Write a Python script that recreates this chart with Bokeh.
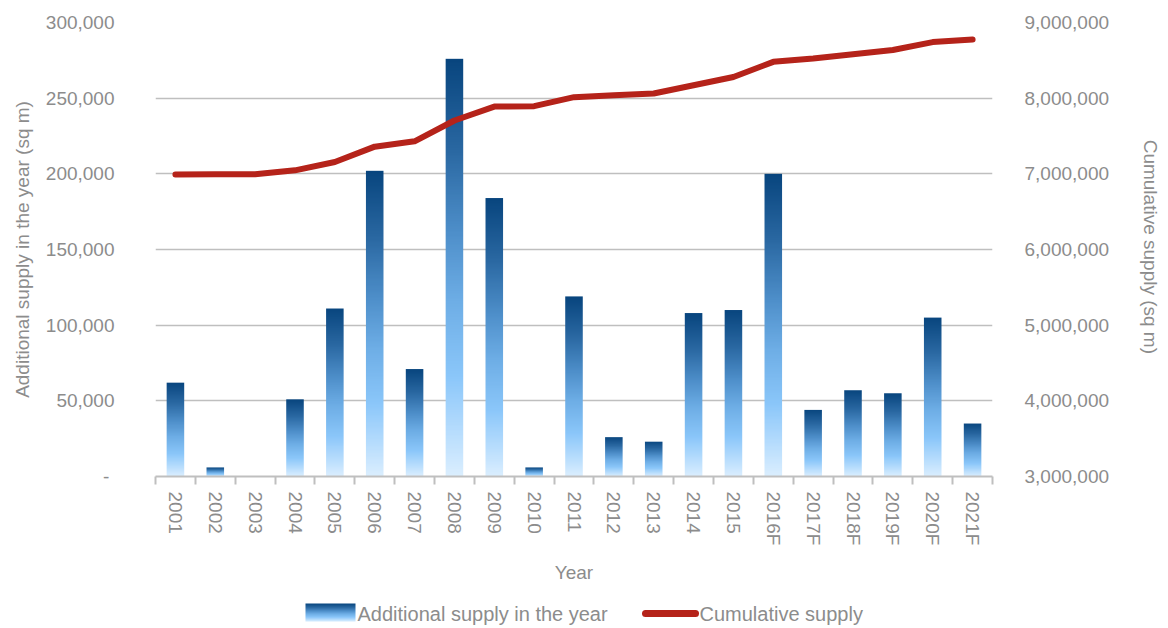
import numpy as np
from bokeh.plotting import figure
from bokeh.models import (Range1d, LinearAxis, FixedTicker,
                          CustomJSTickFormatter, NumeralTickFormatter)
from bokeh.layouts import column
from bokeh.core.properties import value
from bokeh.embed import file_html
from bokeh.resources import INLINE

# ---- data -----------------------------------------------------------------
years = ["2001", "2002", "2003", "2004", "2005", "2006", "2007", "2008",
         "2009", "2010", "2011", "2012", "2013", "2014", "2015", "2016F",
         "2017F", "2018F", "2019F", "2020F", "2021F"]

additional_supply = [62000, 6000, 0, 51000, 111000, 202000, 71000, 276000,
                     184000, 6000, 119000, 26000, 23000, 108000, 110000,
                     200000, 44000, 57000, 55000, 105000, 35000]

cumulative_supply = [6990000, 6995000, 6995000, 7046000, 7157000, 7359000,
                     7430000, 7705000, 7889000, 7894000, 8013000, 8039000,
                     8062000, 8170000, 8280000, 8480000, 8524000, 8581000,
                     8636000, 8741000, 8775000]

left_ticks = [0, 50000, 100000, 150000, 200000, 250000, 300000]
right_ticks = [3000000, 4000000, 5000000, 6000000, 7000000, 8000000, 9000000]

# ---- styling ----------------------------------------------------------------
FONT = "Liberation Sans"
TEXT = "#8c8c8c"
GRID = "#bfbfbf"
RED = "#b5231a"
BAR_W = 0.44

# vertical gradient used to fill each bar (position measured from the bottom)
grad_pos = [0.0, 0.12, 0.24, 0.42, 0.58, 0.78, 1.0]
grad_hex = ["#dcefff", "#b3dbfd", "#8bc7fa", "#6eaee6", "#4f90cb",
            "#2a68a2", "#08457e"]


def gradient_image(rows=256, cols=4):
    rgb = np.array([[int(h[i:i + 2], 16) for i in (1, 3, 5)] for h in grad_hex],
                   dtype=float)
    t = (np.arange(rows) + 0.5) / rows
    img = np.empty((rows, cols), dtype=np.uint32)
    view = img.view(dtype=np.uint8).reshape((rows, cols, 4))
    for c in range(3):
        view[:, :, c] = np.interp(t, grad_pos, rgb[:, c]).astype(np.uint8)[:, None]
    view[:, :, 3] = 255
    return img


bar_img = gradient_image()
n = len(years)
centers = [i + 0.5 for i in range(n)]

# ---- main chart -------------------------------------------------------------
p = figure(width=1168, height=596, output_backend="svg", toolbar_location=None,
           x_range=Range1d(0, n), y_range=Range1d(0, 300000),
           min_border_left=155, min_border_right=176,
           min_border_top=22, min_border_bottom=120)
p.outline_line_color = None
p.background_fill_color = "white"
p.border_fill_color = "white"

p.extra_y_ranges = {"cum": Range1d(3000000, 9000000)}

# bars: gradient images stretched from 0 up to each year's value
p.image_rgba(image=[bar_img] * n,
             x=[c - BAR_W / 2 for c in centers], y=[0] * n,
             dw=[BAR_W] * n, dh=additional_supply)

# cumulative line on the secondary scale
p.line(centers, cumulative_supply, y_range_name="cum", line_color=RED,
       line_width=6, line_cap="round", line_join="round")

# grid
p.xgrid.grid_line_color = None
p.ygrid.grid_line_color = GRID
p.ygrid.grid_line_width = 1.6
p.ygrid.ticker = FixedTicker(ticks=left_ticks)

# bottom axis: labels at category centres, tick marks at boundaries
xa = p.xaxis[0]
xa.ticker = FixedTicker(ticks=centers, minor_ticks=list(range(n + 1)))
xa.formatter = CustomJSTickFormatter(args=dict(labels=years),
                                     code="return labels[Math.floor(tick)];")
xa.major_label_orientation = "vertical"
xa.major_tick_line_color = None
xa.major_tick_out = 0
xa.major_tick_in = 0
xa.minor_tick_line_color = GRID
xa.minor_tick_line_width = 2
xa.minor_tick_out = 8
xa.minor_tick_in = 0
xa.axis_line_color = GRID
xa.axis_line_width = 2
xa.major_label_standoff = 7
xa.axis_label = "Year"
xa.axis_label_standoff = 14

# left axis
ya = p.yaxis[0]
ya.ticker = FixedTicker(ticks=left_ticks)
ya.formatter = NumeralTickFormatter(format="0,0")
ya.major_label_overrides = {0: "-\u00a0"}
ya.axis_line_color = None
ya.major_tick_line_color = None
ya.minor_tick_line_color = None
ya.major_label_standoff = 35
ya.axis_label = "Additional supply in the year (sq m)"
ya.axis_label_standoff = 10

# right axis
ra = LinearAxis(y_range_name="cum", ticker=FixedTicker(ticks=right_ticks),
                formatter=NumeralTickFormatter(format="0,0"))
ra.axis_line_color = None
ra.major_tick_line_color = None
ra.minor_tick_line_color = None
ra.major_label_standoff = 26
ra.axis_label = "Cumulative  supply (sq m)"
ra.axis_label_standoff = 28
p.add_layout(ra, "right")

for ax in (xa, ya, ra):
    ax.major_label_text_font = FONT
    ax.major_label_text_font_size = "19px"
    ax.major_label_text_color = TEXT
    ax.axis_label_text_font = FONT
    ax.axis_label_text_font_size = "19px"
    ax.axis_label_text_font_style = "normal"
    ax.axis_label_text_color = TEXT

# ---- legend strip -----------------------------------------------------------
leg = figure(width=1168, height=32, output_backend="svg", toolbar_location=None,
             x_range=Range1d(0, 1168), y_range=Range1d(0, 32),
             x_axis_type=None, y_axis_type=None, min_border=0)
leg.frame_align = False
leg.grid.visible = False
leg.outline_line_color = None
leg.image_rgba(image=[bar_img], x=305, y=7, dw=50, dh=18)
leg.text(x=[357], y=[15], text=["Additional supply in the year"],
         text_baseline="middle", text_align="left",
         text_font=value(FONT), text_font_size="20px", text_color=TEXT)
leg.line([645, 695], [15, 15], line_color=RED, line_width=7, line_cap="round")
leg.text(x=[699], y=[15], text=["Cumulative supply"],
         text_baseline="middle", text_align="left",
         text_font=value(FONT), text_font_size="20px", text_color=TEXT)

layout = column(p, leg)
open("out.html", "w").write(file_html(layout, INLINE))
